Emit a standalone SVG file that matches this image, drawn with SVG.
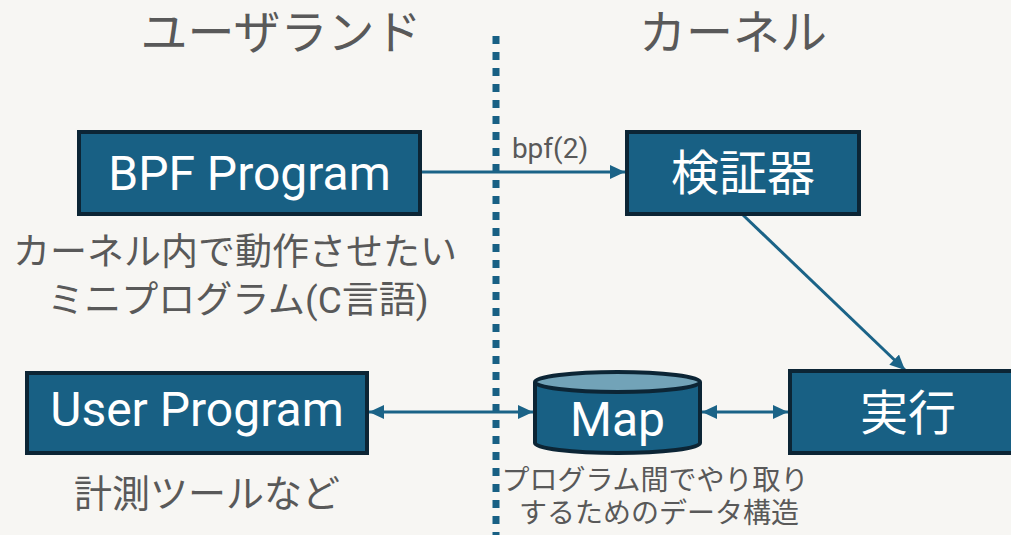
<svg xmlns="http://www.w3.org/2000/svg" width="1011" height="535" viewBox="0 0 1011 535">
<defs>
<style>
.box{fill:#186084;stroke:#0c2535;stroke-width:4}
.lbl{fill:#ffffff;font-family:Roboto,"Noto Sans CJK JP",sans-serif;font-size:48px;text-anchor:middle}
.note{fill:#595959;font-family:Roboto,"Noto Sans CJK JP",sans-serif;text-anchor:middle}
.conn{stroke:#1b6387;stroke-width:3;fill:none}
</style>
<marker id="ah" markerUnits="userSpaceOnUse" markerWidth="16" markerHeight="14" refX="15" refY="7" orient="auto-start-reverse" viewBox="0 0 16 14">
<path d="M0,0 L15,7 L0,14 z" fill="#1b6387"/>
</marker>
</defs>
<rect width="1011" height="535" fill="#f7f6f3"/>
<g id="divider">
<line x1="496" y1="36" x2="496" y2="535" stroke="#186084" stroke-width="7" stroke-dasharray="8 8"/>
</g>
<g id="headers">
<text class="note" x="281" y="49" font-size="47">ユーザランド</text>
<text class="note" x="733" y="49" font-size="47">カーネル</text>
</g>
<g id="connectors">
<line class="conn" x1="421" y1="172" x2="625" y2="172" marker-end="url(#ah)"/>
<line class="conn" x1="743" y1="215" x2="905" y2="370" marker-end="url(#ah)"/>
<line class="conn" x1="369" y1="412" x2="533" y2="412" marker-start="url(#ah)" marker-end="url(#ah)"/>
<line class="conn" x1="702" y1="412" x2="788" y2="412" marker-start="url(#ah)" marker-end="url(#ah)"/>
<text class="note" x="550" y="158" font-size="28">bpf(2)</text>
</g>
<g id="bpf-program">
<rect class="box" x="79" y="132" width="341" height="82"/>
<text class="lbl" x="249.5" y="190">BPF Program</text>
<text class="note" x="235" y="265" font-size="37">カーネル内で動作させたい</text>
<text class="note" x="238" y="313" font-size="37">ミニプログラム(C言語)</text>
</g>
<g id="verifier">
<rect class="box" x="627" y="132" width="232" height="82"/>
<text class="lbl" x="743" y="190">検証器</text>
</g>
<g id="execute">
<rect class="box" x="790" y="371" width="236" height="82"/>
<text class="lbl" x="908" y="430">実行</text>
</g>
<g id="user-program">
<rect class="box" x="27" y="373" width="340" height="80"/>
<text class="lbl" x="197" y="426">User Program</text>
<text class="note" x="207" y="507" font-size="38">計測ツールなど</text>
</g>
<g id="map">
<path d="M535,382 L535,443 A82.5,10 0 0 0 700,443 L700,382" fill="#186084" stroke="#0c2535" stroke-width="4"/>
<ellipse cx="617.5" cy="382" rx="82.5" ry="10" fill="#72a3b8" stroke="#0c2535" stroke-width="4"/>
<text class="lbl" x="617.5" y="436">Map</text>
<text class="note" x="655" y="490" font-size="28">プログラム間でやり取り</text>
<text class="note" x="659" y="523" font-size="28">するためのデータ構造</text>
</g>
</svg>
